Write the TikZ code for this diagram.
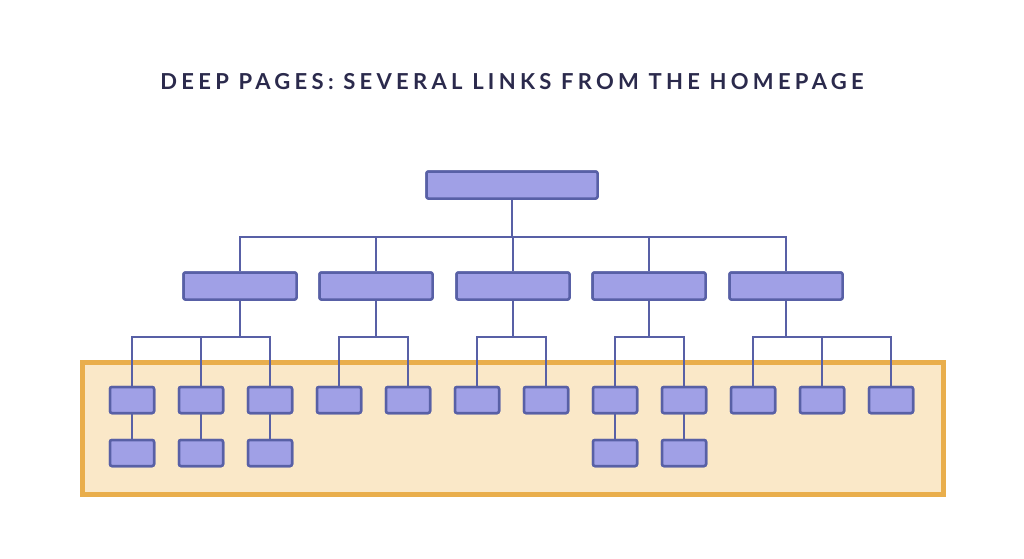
\documentclass[tikz,border=0pt]{standalone}
\usepackage{fontspec}
\newfontfamily\titlefont[LetterSpace=19.5]{Lato Bold}
\definecolor{nodefill}{HTML}{A0A0E6}
\definecolor{nodeline}{HTML}{5860A6}
\definecolor{bandfill}{HTML}{FAE8C8}
\definecolor{bandline}{HTML}{E9AE4C}
\definecolor{titlecol}{HTML}{2B2A4C}
\begin{document}
\begin{tikzpicture}[x=1pt,y=-1pt,
  page/.style={draw=nodeline,fill=nodefill,line width=2.5pt,rounded corners=2pt,inner sep=0pt},
  toppage/.style={page,minimum width=171pt,minimum height=27pt},
  midpage/.style={page,minimum width=113pt,minimum height=27pt},
  leafpage/.style={page,minimum width=44pt,minimum height=26pt},
  link/.style={draw=nodeline,line width=2.8pt}]
\useasboundingbox (0,0) rectangle (1024,558);
\fill[white] (0,0) rectangle (1024,558);
\node[text=titlecol,font=\titlefont\fontsize{22}{26}\selectfont] (title) at (512,82) {DEEP PAGES: SEVERAL LINKS FROM THE HOMEPAGE};
\draw[bandline,fill=bandfill,line width=5pt] (82,362) rectangle (943,494);
% bus coordinates
\coordinate (b0) at (512,237);
\coordinate (b1) at (0,337);
% level 0
\node[toppage] (top) at (512,185) {};
% level 1
\foreach \i/\x in {1/240,2/376,3/513,4/649,5/786}{
  \node[midpage] (m\i) at (\x,286) {};
}
% level 2
\foreach \i/\x in {1/132,2/201,3/270,4/339,5/408,6/477,7/546,8/615,9/684,10/753,11/822,12/891}{
  \node[leafpage] (l\i) at (\x,400) {};
}
\foreach \i/\x in {1/132,2/201,3/270,8/615,9/684}{
  \node[leafpage] (d\i) at (\x,453) {};
}
% connectors
\draw[link] (top.south) -- (b0);
\draw[link] (m1.north) |- (b0) -| (m5.north);
\foreach \i in {2,3,4}{\draw[link] (m\i.north) -- (m\i.north |- b0);}
\foreach \p/\a/\b in {1/1/3,2/4/5,3/6/7,4/8/9,5/10/12}{
  \coordinate (h\p) at (m\p.south |- b1);
  \draw[link] (m\p.south) -- (h\p);
  \draw[link] (l\a.north) |- (h\p) -| (l\b.north);
}
\draw[link] (l2.north) -- (l2.north |- b1);
\draw[link] (l11.north) -- (l11.north |- b1);
\foreach \i in {1,2,3,8,9}{\draw[link] (l\i.south) -- (d\i.north);}
% redraw nodes on top
\node[toppage] at (top) {};
\foreach \i in {1,...,5}{\node[midpage] at (m\i) {};}
\foreach \i in {1,...,12}{\node[leafpage] at (l\i) {};}
\foreach \i in {1,2,3,8,9}{\node[leafpage] at (d\i) {};}
\end{tikzpicture}
\end{document}
